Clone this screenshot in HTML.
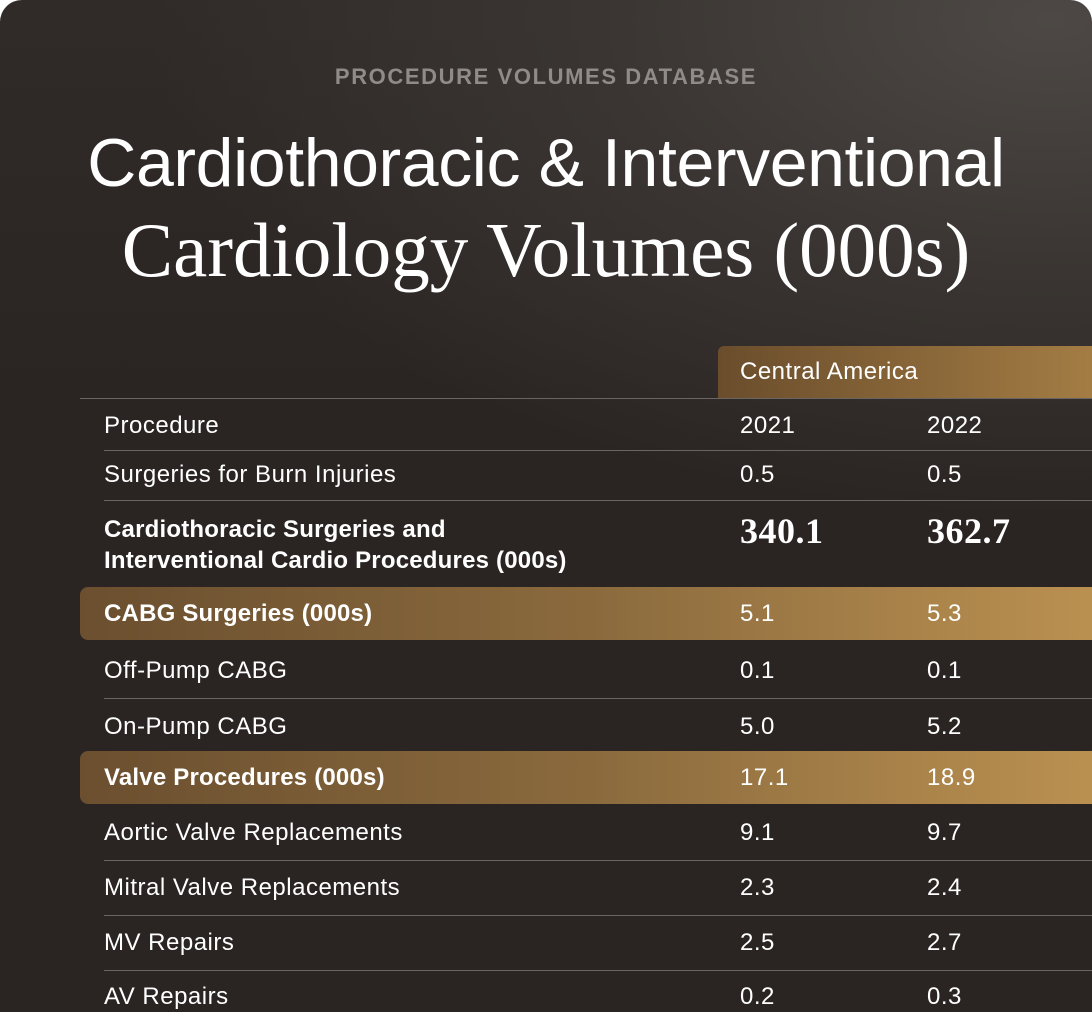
<!DOCTYPE html>
<html><head><meta charset="utf-8"><style>
html,body{margin:0;padding:0;width:1092px;height:1012px;background:#fff;overflow:hidden}
.card{position:absolute;left:0;top:0;width:1092px;height:1012px;border-radius:22px 22px 0 0;overflow:hidden;
background:radial-gradient(ellipse 900px 500px at 1050px 20px,#4d4845 0%,#3a3532 50%,rgba(42,36,34,0) 100%),linear-gradient(180deg,#302b29 0%,#2a2422 40%,#2a2422 100%);
font-family:"Liberation Sans",sans-serif;color:#fff}
.t{position:absolute;white-space:nowrap}
.sub{left:0;width:1092px;text-align:center;top:64px;font-size:22px;font-weight:bold;color:#8f8b88;letter-spacing:1.6px}
.h1{left:0;width:1092px;text-align:center;top:124px;font-size:68px;letter-spacing:-0.4px}
.h2{left:0;width:1092px;text-align:center;top:206px;font-size:77px;font-family:"Liberation Serif",serif}
.band{position:absolute;left:718px;top:346px;width:380px;height:52px;border-radius:6px 0 0 0;background:linear-gradient(90deg,#6a4d2c,#a47d44)}
.hl{position:absolute;left:80px;width:1020px;height:53px;border-radius:8px 0 0 8px;background:linear-gradient(90deg,#6b4f2f 0%,#8a6a3d 50%,#bb9151 100%)}
.line{position:absolute;left:104px;width:988px;height:1px;background:#6b6562}
.r{font-size:24px;letter-spacing:0.5px}
.b{font-weight:bold;letter-spacing:0.2px}
.c1{left:740px}.c2{left:927px}.c0{left:104px}
.big{font-family:"Liberation Serif",serif;font-weight:bold;font-size:36px;letter-spacing:0.5px}
</style></head><body><div class="card">
<div class="t sub">PROCEDURE VOLUMES DATABASE</div>
<div class="t h1">Cardiothoracic &amp; Interventional</div>
<div class="t h2">Cardiology Volumes (000s)</div>
<div class="band"></div>
<div class="t r" style="left:740px;top:358px">Central America</div>
<div class="line" style="left:80px;top:398px;width:1012px"></div>

<div class="t r c0" style="top:412px">Procedure</div><div class="t r c1" style="top:412px">2021</div><div class="t r c2" style="top:412px">2022</div>
<div class="line" style="top:450px"></div>
<div class="t r c0" style="top:461px">Surgeries for Burn Injuries</div><div class="t r c1" style="top:461px">0.5</div><div class="t r c2" style="top:461px">0.5</div>
<div class="line" style="top:500px"></div>
<div class="t r b c0" style="top:516px">Cardiothoracic Surgeries and</div>
<div class="t r b c0" style="top:547px">Interventional Cardio Procedures (000s)</div>
<div class="t big c1" style="top:510px">340.1</div><div class="t big c2" style="top:510px">362.7</div>

<div class="hl" style="top:587px"></div>
<div class="t r b c0" style="top:600px">CABG Surgeries (000s)</div><div class="t r c1" style="top:600px">5.1</div><div class="t r c2" style="top:600px">5.3</div>
<div class="t r c0" style="top:657px">Off-Pump CABG</div><div class="t r c1" style="top:657px">0.1</div><div class="t r c2" style="top:657px">0.1</div>
<div class="line" style="top:698px"></div>
<div class="t r c0" style="top:713px">On-Pump CABG</div><div class="t r c1" style="top:713px">5.0</div><div class="t r c2" style="top:713px">5.2</div>
<div class="hl" style="top:751px"></div>
<div class="t r b c0" style="top:764px">Valve Procedures (000s)</div><div class="t r c1" style="top:764px">17.1</div><div class="t r c2" style="top:764px">18.9</div>
<div class="t r c0" style="top:819px">Aortic Valve Replacements</div><div class="t r c1" style="top:819px">9.1</div><div class="t r c2" style="top:819px">9.7</div>
<div class="line" style="top:860px"></div>
<div class="t r c0" style="top:874px">Mitral Valve Replacements</div><div class="t r c1" style="top:874px">2.3</div><div class="t r c2" style="top:874px">2.4</div>
<div class="line" style="top:915px"></div>
<div class="t r c0" style="top:929px">MV Repairs</div><div class="t r c1" style="top:929px">2.5</div><div class="t r c2" style="top:929px">2.7</div>
<div class="line" style="top:970px"></div>
<div class="t r c0" style="top:983px">AV Repairs</div><div class="t r c1" style="top:983px">0.2</div><div class="t r c2" style="top:983px">0.3</div>
</div></body></html>
